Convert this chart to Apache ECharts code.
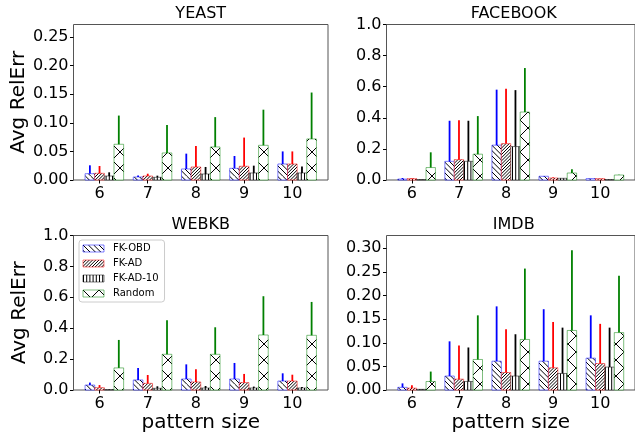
<!DOCTYPE html>
<html>
<head>
<meta charset="utf-8">
<script src="https://cdn.jsdelivr.net/npm/echarts@6/dist/echarts.min.js"></script>
<style>
html,body{margin:0;padding:0;background:#fff;}
#chart{width:635px;height:437px;}
</style>
</head>
<body>
<div id="chart"></div>
<script>
// ---------------- data ----------------
const categories = [6, 7, 8, 9, 10];
const seriesNames = ['FK-OBD', 'FK-AD', 'FK-AD-10', 'Random'];
const panelTitles = ['YEAST', 'FACEBOOK', 'WEBKB', 'IMDB'];

// YEAST
const yeastOBD = [0.011, 0.0053, 0.0193, 0.0204, 0.028];
const yeastOBDErr = [0.0147, 0.0027, 0.0268, 0.0216, 0.022];
const yeastAD = [0.0117, 0.007, 0.0228, 0.024, 0.028];
const yeastADErr = [0.0128, 0.004, 0.0368, 0.0502, 0.022];
const yeastAD10 = [0.007, 0.0047, 0.0105, 0.0123, 0.0123];
const yeastAD10Err = [0.0064, 0.0029, 0.0123, 0.0128, 0.0111];
const yeastRandom = [0.0625, 0.0473, 0.0578, 0.0607, 0.0718];
const yeastRandomErr = [0.0502, 0.0491, 0.0522, 0.0623, 0.0812];

// FACEBOOK
const facebookOBD = [0.006, 0.120, 0.224, 0.024, 0.009];
const facebookOBDErr = [0.007, 0.261, 0.357, 0.002, 0.001];
const facebookAD = [0.009, 0.131, 0.234, 0.013, 0.009];
const facebookADErr = [0.004, 0.254, 0.353, 0.004, 0.001];
const facebookAD10 = [0.002, 0.120, 0.215, 0.011, 0.002];
const facebookAD10Err = [0.001, 0.261, 0.363, 0.001, 0.001];
const facebookRandom = [0.080, 0.166, 0.437, 0.045, 0.032];
const facebookRandomErr = [0.098, 0.245, 0.283, 0.024, 0.002];

// WEBKB
const webkbOBD = [0.032, 0.065, 0.071, 0.071, 0.058];
const webkbOBDErr = [0.016, 0.078, 0.095, 0.104, 0.050];
const webkbAD = [0.015, 0.043, 0.052, 0.048, 0.058];
const webkbADErr = [0.017, 0.054, 0.082, 0.056, 0.041];
const webkbAD10 = [0.002, 0.011, 0.013, 0.013, 0.013];
const webkbAD10Err = [0.002, 0.013, 0.013, 0.009, 0.006];
const webkbRandom = [0.143, 0.231, 0.231, 0.356, 0.354];
const webkbRandomErr = [0.181, 0.220, 0.175, 0.251, 0.216];

// IMDB
const imdbOBD = [0.0056, 0.0295, 0.061, 0.061, 0.0674];
const imdbOBDErr = [0.0084, 0.0735, 0.116, 0.110, 0.0906];
const imdbAD = [0.004, 0.023, 0.037, 0.047, 0.056];
const imdbADErr = [0.0058, 0.071, 0.0915, 0.097, 0.084];
const imdbAD10 = [0.0014, 0.018, 0.0295, 0.035, 0.0485];
const imdbAD10Err = [0.0006, 0.072, 0.0885, 0.097, 0.0835];
const imdbRandom = [0.018, 0.0646, 0.107, 0.126, 0.1215];
const imdbRandomErr = [0.021, 0.0934, 0.150, 0.170, 0.1205];

// y tick labels per panel
const yeastTicks = [0, 0.05, 0.10, 0.15, 0.20, 0.25];
const facebookTicks = [0, 0.2, 0.4, 0.6, 0.8, 1.0];
const webkbTicks = [0, 0.2, 0.4, 0.6, 0.8, 1.0];
const imdbTicks = [0, 0.05, 0.10, 0.15, 0.20, 0.25, 0.30];

// ---------------- styling helpers ----------------
const FONT = 'DejaVu Sans';
const edgeColors = ['rgba(0,0,255,0.5)', 'rgba(255,0,0,0.5)', 'rgba(0,0,0,0.5)', 'rgba(0,128,0,0.5)'];
const errColors = ['#0000ff', '#ff0000', '#000000', '#008000'];
const hatchKinds = ['back', 'fwd', 'vert', 'x'];
const barOffsets = [-0.2, 0, 0.2, 0.4];
const barWidth = 0.2;

function makePattern(kind) {
  const S = 16;
  const c = document.createElement('canvas');
  c.width = S; c.height = S;
  const ctx = c.getContext('2d');
  ctx.fillStyle = '#fff';
  ctx.fillRect(0, 0, S, S);
  ctx.strokeStyle = '#000';
  ctx.lineWidth = 1;
  ctx.beginPath();
  if (kind === 'back') {
    const n = 3;
    for (let k = -n; k <= 2 * n; k++) {
      const x0 = k * S / n;
      ctx.moveTo(x0, 0); ctx.lineTo(x0 + S, S);
    }
  } else if (kind === 'fwd') {
    const n = 5;
    for (let k = -n; k <= 2 * n; k++) {
      const x0 = k * S / n;
      ctx.moveTo(x0, S); ctx.lineTo(x0 + S, 0);
    }
  } else if (kind === 'vert') {
    const n = 5;
    for (let k = 0; k < n; k++) {
      const x0 = k * S / n + 0.5;
      ctx.moveTo(x0, 0); ctx.lineTo(x0, S);
    }
  } else if (kind === 'x') {
    for (let k = -1; k <= 2; k++) {
      const x0 = k * S;
      ctx.moveTo(x0, 0); ctx.lineTo(x0 + S, S);
      ctx.moveTo(x0, S); ctx.lineTo(x0 + S, 0);
    }
  }
  ctx.stroke();
  return c;
}
const patterns = hatchKinds.map(k => ({ image: makePattern(k), repeat: 'repeat' }));

const panels = [
  { title: 'YEAST', means: [yeastOBD, yeastAD, yeastAD10, yeastRandom], errs: [yeastOBDErr, yeastADErr, yeastAD10Err, yeastRandomErr], ticks: yeastTicks, max: 0.272, dec: 2,
    grid: { left: 73.5, top: 24.5, width: 254.5, height: 155.5 }, yName: true, xName: false },
  { title: 'FACEBOOK', means: [facebookOBD, facebookAD, facebookAD10, facebookRandom], errs: [facebookOBDErr, facebookADErr, facebookAD10Err, facebookRandomErr], ticks: facebookTicks, max: 1.0, dec: 1,
    grid: { left: 386.5, top: 24.5, width: 254.5, height: 155.5 }, yName: false, xName: false },
  { title: 'WEBKB', means: [webkbOBD, webkbAD, webkbAD10, webkbRandom], errs: [webkbOBDErr, webkbADErr, webkbAD10Err, webkbRandomErr], ticks: webkbTicks, max: 1.0, dec: 1,
    grid: { left: 73.5, top: 235.5, width: 254.5, height: 154.5 }, yName: true, xName: true },
  { title: 'IMDB', means: [imdbOBD, imdbAD, imdbAD10, imdbRandom], errs: [imdbOBDErr, imdbADErr, imdbAD10Err, imdbRandomErr], ticks: imdbTicks, max: 0.327, dec: 2,
    grid: { left: 386.5, top: 235.5, width: 254.5, height: 154.5 }, yName: false, xName: true }
];

const grids = [], xAxes = [], yAxes = [], series = [], titles = [];
panels.forEach((p, gi) => {
  grids.push(Object.assign({ show: true, borderColor: '#555', borderWidth: 1, backgroundColor: 'transparent' }, p.grid));
  titles.push({
    text: p.title, left: p.grid.left + p.grid.width / 2, top: p.grid.top - 18.5, textAlign: 'center', padding: 0,
    textStyle: { fontFamily: FONT, fontSize: 16, fontWeight: 'normal', color: '#000' }
  });
  xAxes.push({
    type: 'value', gridIndex: gi, min: 5.46, max: 10.74,
    axisLine: { show: false },
    splitLine: { show: false },
    axisTick: { show: true, length: 3.5, lineStyle: { color: '#000' }, customValues: categories },
    axisLabel: { fontFamily: FONT, fontSize: 16, color: '#000', margin: 6, customValues: categories, formatter: v => String(v) },
    name: p.xName ? 'pattern size' : '', nameLocation: 'middle', nameGap: 21,
    nameTextStyle: { fontFamily: FONT, fontSize: 20, color: '#000' }
  });
  yAxes.push({
    type: 'value', gridIndex: gi, min: 0, max: p.max,
    axisLine: { show: false },
    splitLine: { show: false },
    axisTick: { show: true, length: 3.5, lineStyle: { color: '#000' }, customValues: p.ticks },
    axisLabel: { fontFamily: FONT, fontSize: 16, color: '#000', margin: 5, customValues: p.ticks, formatter: v => v.toFixed(p.dec) },
    name: p.yName ? 'Avg RelErr' : '', nameLocation: 'middle', nameGap: 44, nameRotate: 90,
    nameTextStyle: { fontFamily: FONT, fontSize: 20, color: '#000' }
  });
  seriesNames.forEach((name, si) => {
    const data = categories.map((c, ci) => [c + barOffsets[si], p.means[si][ci], p.errs[si][ci]]);
    series.push({
      type: 'custom', name: name, xAxisIndex: gi, yAxisIndex: gi,
      itemStyle: { color: patterns[si], borderColor: edgeColors[si], borderWidth: 1 },
      encode: { x: 0, y: 1 },
      data: data,
      silent: true,
      renderItem: function (params, api) {
        const x = api.value(0), y = api.value(1), e = api.value(2);
        const p0 = api.coord([x - barWidth / 2, 0]);
        const p1 = api.coord([x + barWidth / 2, y]);
        const pm = api.coord([x, y]);
        const pe = api.coord([x, y + e]);
        return {
          type: 'group',
          children: [
            { type: 'rect', shape: { x: p0[0], y: p1[1], width: p1[0] - p0[0], height: p0[1] - p1[1] },
              style: { fill: patterns[si], stroke: edgeColors[si], lineWidth: 1 } },
            { type: 'line', shape: { x1: pm[0], y1: pm[1], x2: pe[0], y2: pe[1] },
              style: { stroke: errColors[si], lineWidth: 1.8 } }
          ]
        };
      }
    });
  });
});

const option = {
  animation: false,
  backgroundColor: '#fff',
  textStyle: { fontFamily: FONT },
  title: titles,
  grid: grids,
  xAxis: xAxes,
  yAxis: yAxes,
  legend: {
    orient: 'vertical', left: 79, top: 240,
    backgroundColor: '#fff', borderColor: '#ccc', borderWidth: 1, borderRadius: 3,
    padding: [2.5, 6, 2.5, 3.5],
    itemWidth: 21, itemHeight: 7, itemGap: 3, icon: 'rect',
    selectedMode: false,
    textStyle: { fontFamily: FONT, fontSize: 10, color: '#000', lineHeight: 12, padding: [0, 0, 0, 4] },
    data: seriesNames.map((n, si) => ({
      name: n, icon: 'rect',
      itemStyle: { color: patterns[si], borderColor: edgeColors[si], borderWidth: 1 }
    }))
  },
  series: series
};

const chart = echarts.init(document.getElementById('chart'), null, { renderer: 'canvas' });
chart.setOption(option);
</script>
</body>
</html>
